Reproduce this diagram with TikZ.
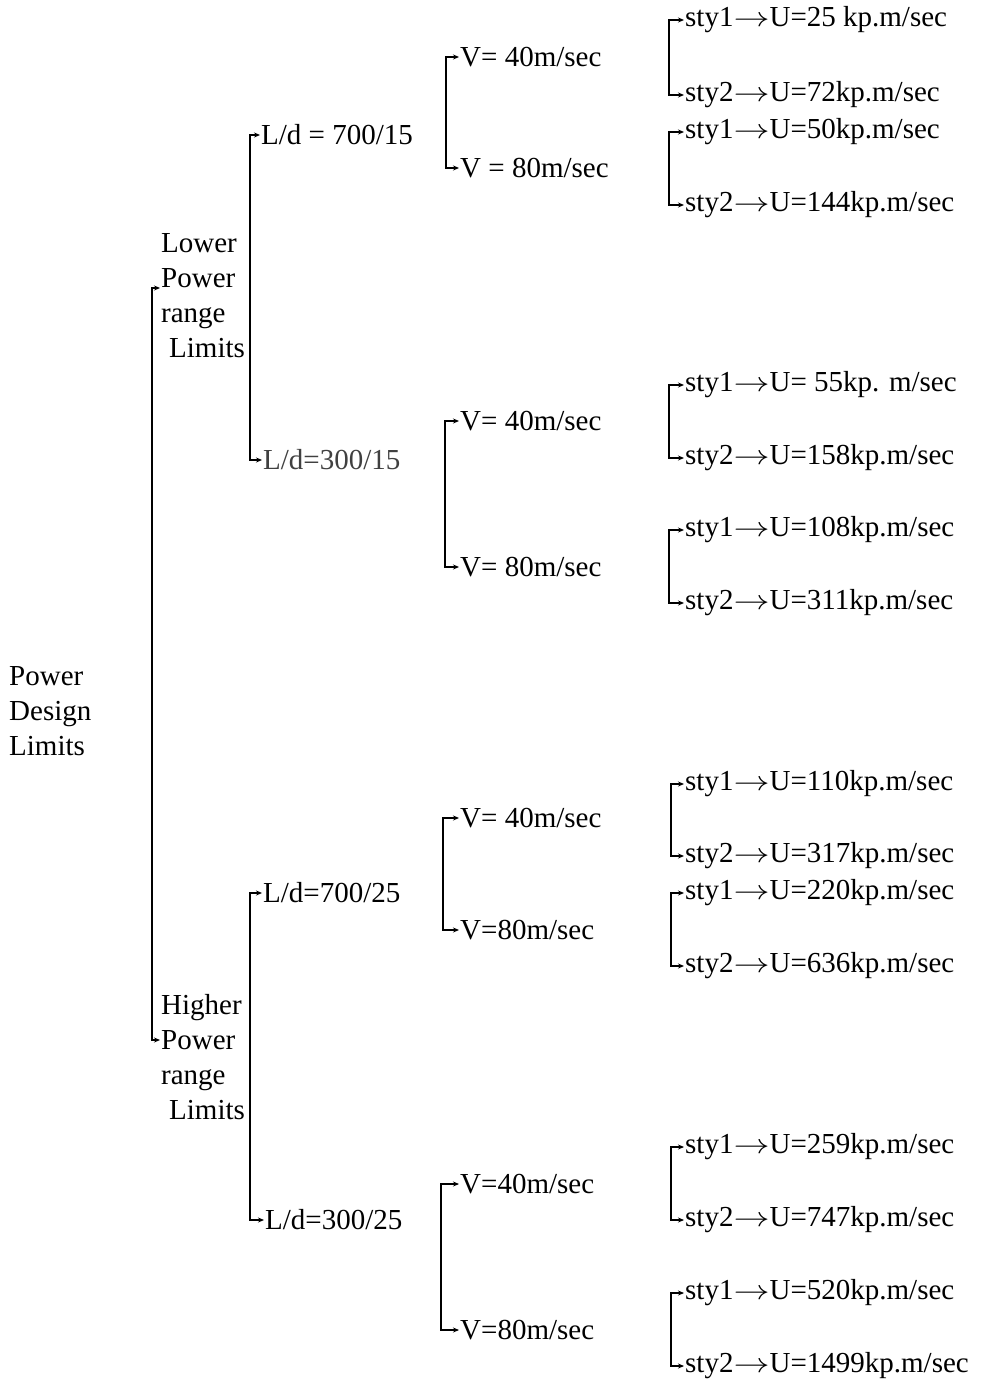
\documentclass[tikz,border=0pt]{standalone}
\usepackage{fontspec}
\setmainfont{Liberation Serif}
\usetikzlibrary{arrows.meta}
\newcommand{\ar}{\scalebox{1.45}[1.1]{$\rightarrow$}}
\begin{document}
\begin{tikzpicture}[x=1pt,y=-1pt,
  lbl/.style={anchor=west,inner sep=1pt,font=\fontsize{29}{35}\selectfont},
  multi/.style={lbl,align=left},
  brk/.style={line width=1.3pt,arrows={Stealth[length=6pt,width=5pt]-Stealth[length=6pt,width=5pt]}}]
\useasboundingbox (0,0) rectangle (989,1381);
% root
\node[multi] (root) at (8,711) {Power\\Design\\Limits};
% level 1
\node[multi] (lower) at (160,296) {Lower\\Power\\range\\\hspace*{8pt}Limits};
\node[multi] (higher) at (160,1057) {Higher\\Power\\range\\\hspace*{8pt}Limits};
% level 2
\node[lbl] (l1) at (260,135) {L/d = 700/15};
\node[lbl,text=black!75] (l2) at (262,460) {L/d=300/15};
\node[lbl] (l3) at (262,893) {L/d=700/25};
\node[lbl] (l4) at (264,1220) {L/d=300/25};
% level 3
\node[lbl] (v1) at (459,57) {V= 40m/sec};
\node[lbl] (v2) at (459,168) {V = 80m/sec};
\node[lbl] (v3) at (459,421) {V= 40m/sec};
\node[lbl] (v4) at (459,567) {V= 80m/sec};
\node[lbl] (v5) at (459,818) {V= 40m/sec};
\node[lbl] (v6) at (459,930) {V=80m/sec};
\node[lbl] (v7) at (459,1184) {V=40m/sec};
\node[lbl] (v8) at (459,1330) {V=80m/sec};
% level 4
\node[lbl] (s1) at (684,20) {sty1\ar U=25 kp.m/sec};
\node[lbl] (s2) at (684,95) {sty2\ar U=72kp.m/sec};
\node[lbl] (s3) at (684,132) {sty1\ar U=50kp.m/sec};
\node[lbl] (s4) at (684,205) {sty2\ar U=144kp.m/sec};
\node[lbl] (s5) at (684,385) {sty1\ar U= 55kp. m/sec};
\node[lbl] (s6) at (684,458) {sty2\ar U=158kp.m/sec};
\node[lbl] (s7) at (684,530) {sty1\ar U=108kp.m/sec};
\node[lbl] (s8) at (684,603) {sty2\ar U=311kp.m/sec};
\node[lbl] (s9) at (684,784) {sty1\ar U=110kp.m/sec};
\node[lbl] (s10) at (684,856) {sty2\ar U=317kp.m/sec};
\node[lbl] (s11) at (684,893) {sty1\ar U=220kp.m/sec};
\node[lbl] (s12) at (684,966) {sty2\ar U=636kp.m/sec};
\node[lbl] (s13) at (684,1147) {sty1\ar U=259kp.m/sec};
\node[lbl] (s14) at (684,1220) {sty2\ar U=747kp.m/sec};
\node[lbl] (s15) at (684,1293) {sty1\ar U=520kp.m/sec};
\node[lbl] (s16) at (684,1366) {sty2\ar U=1499kp.m/sec};
% connectors
\draw[brk] (lower.west |- 0,288) -- ++(-8,0) |- (higher.west |- 0,1040);
\draw[brk] (l1.west) -| (250,300) |- (l2.west);
\draw[brk] (l3.west) -| (250,1050) |- (l4.west);
\draw[brk] (v1.west) -| (446,110) |- (v2.west);
\draw[brk] (v3.west) -| (445,490) |- (v4.west);
\draw[brk] (v5.west) -| (443,870) |- (v6.west);
\draw[brk] (v7.west) -| (441,1250) |- (v8.west);
\draw[brk] (s1.west) -| (669,60) |- (s2.west);
\draw[brk] (s3.west) -| (669,170) |- (s4.west);
\draw[brk] (s5.west) -| (669,420) |- (s6.west);
\draw[brk] (s7.west) -| (669,565) |- (s8.west);
\draw[brk] (s9.west) -| (671,820) |- (s10.west);
\draw[brk] (s11.west) -| (671,930) |- (s12.west);
\draw[brk] (s13.west) -| (671,1180) |- (s14.west);
\draw[brk] (s15.west) -| (671,1330) |- (s16.west);
\end{tikzpicture}
\end{document}
